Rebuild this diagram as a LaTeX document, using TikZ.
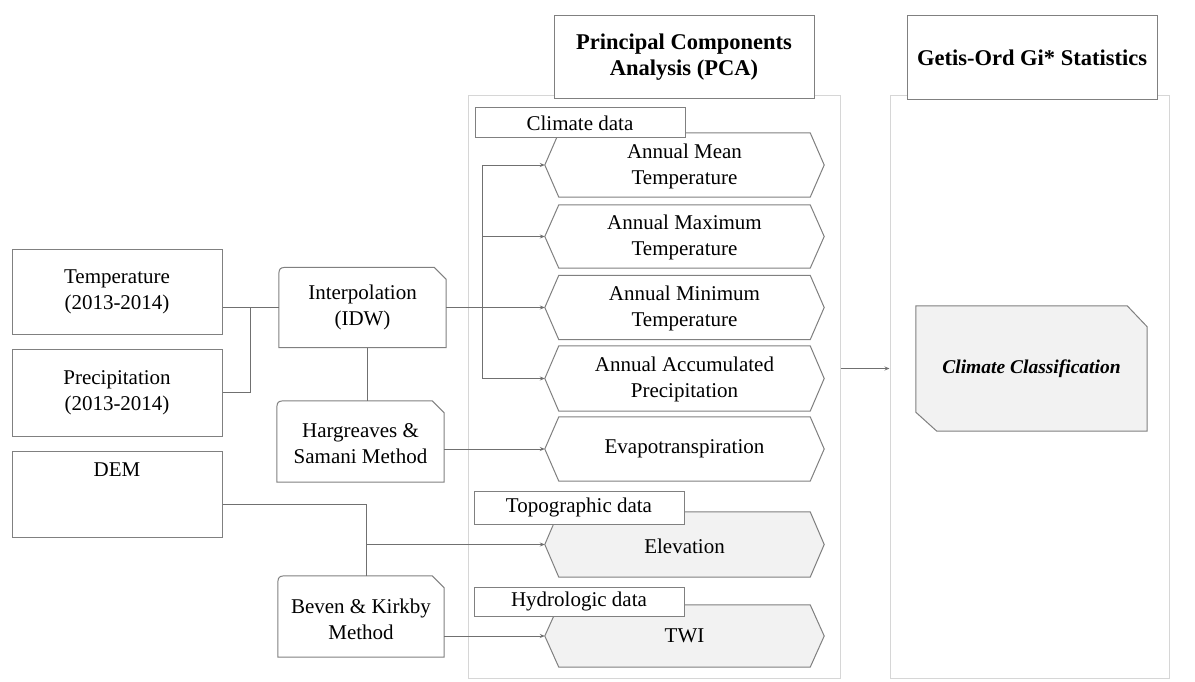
\documentclass[tikz,border=0pt]{standalone}
\usepackage{fontspec}
\setmainfont{Liberation Serif}
\usetikzlibrary{arrows.meta,calc}
\definecolor{boxgray}{HTML}{808080}
\definecolor{linegray}{HTML}{707070}
\definecolor{panelgray}{HTML}{D6D6D6}
\definecolor{fillgray}{HTML}{F2F2F2}
\tikzset{
  txt/.style={font=\fontsize{21}{26}\selectfont, align=center, inner sep=0pt},
  leftbox/.style={txt, draw=boxgray, line width=1pt, fill=white, minimum width=210pt},
  shapenode/.style={txt, minimum width=167pt, minimum height=80pt},
  boxline/.style={draw=boxgray, line width=1pt, fill=white},
  hexnode/.style={txt, minimum width=279pt},
  hexline/.style={draw=boxgray, line width=1pt},
  tagbox/.style={txt, draw=boxgray, line width=1pt, fill=white, minimum width=210pt},
  panel/.style={draw=panelgray, line width=1pt, fill=white},
  titlebox/.style={draw=boxgray, line width=1pt, fill=white, align=center, inner sep=0pt,
    font=\fontsize{22.5}{26}\selectfont\bfseries},
  conn/.style={draw=linegray, line width=0.8pt},
  arr/.style={conn, -{Stealth[length=5pt,width=4pt]}},
}
\begin{document}
\begin{tikzpicture}[x=1pt,y=-1pt]
\useasboundingbox (0,0) rectangle (1195,682);

% panels
\node[panel, minimum width=372pt, minimum height=582pt] (pcap) at (654,387) {};
\node[panel, minimum width=279pt, minimum height=582pt] (getp) at (1029.5,387) {};
\node[titlebox, minimum width=260pt, minimum height=83pt] (pcat) at (684,57.5) {Principal Components\\Analysis (PCA)};
\node[titlebox, minimum width=250pt, minimum height=84pt] (gett) at (1032,58) {Getis-Ord Gi* Statistics};

% left input boxes
\node[leftbox, minimum height=85pt] (temp) at (117,291.5) {Temperature\\(2013-2014)};
\node[leftbox, minimum height=87pt] (prec) at (117,392.5) {Precipitation\\(2013-2014)};
\node[leftbox, minimum height=86pt] (dem) at (117,494) {};
\node[txt] (demtxt) at (117,470) {DEM};

% method boxes (rounded top-left, snipped top-right)
\node[shapenode] (interp) at (362.5,307.5) {};
\node[shapenode, minimum height=81pt] (harg) at (360.5,441.5) {};
\node[shapenode, minimum width=166pt, minimum height=81pt] (beven) at (361,616.5) {};
\foreach \n in {interp,harg,beven}{
  \path[boxline] (\n.south west) -- ([yshift=-12pt]\n.north west)
    .. controls (\n.north west) .. ([xshift=12pt]\n.north west)
    -- ([xshift=-12pt]\n.north east) -- ([yshift=-12pt]\n.north east)
    -- (\n.south east) -- cycle;
}
\node[txt] at (interp) {Interpolation\\(IDW)};
\node[txt] at ([yshift=-2pt]harg.center) {Hargreaves \&\\Samani Method};
\node[txt] at ([yshift=-3pt]beven.center) {Beven \& Kirkby\\Method};

% hexagons
\node[hexnode, minimum height=64pt] (mean) at (684.5,165) {};
\node[hexnode, minimum height=63pt] (max) at (684.5,236.5) {};
\node[hexnode, minimum height=64pt] (min) at (684.5,307.5) {};
\node[hexnode, minimum height=65pt] (acc) at (684.5,378.5) {};
\node[hexnode, minimum height=64pt] (evap) at (684.5,449) {};
\node[hexnode, minimum height=65pt] (elev) at (684.5,544.5) {};
\node[hexnode, minimum height=62pt] (twi) at (684.5,636) {};
\foreach \n/\f in {mean/white,max/white,min/white,acc/white,evap/white,elev/fillgray,twi/fillgray}{
  \path[hexline, fill=\f] (\n.west) -- ([xshift=14pt]\n.north west) -- ([xshift=-14pt]\n.north east)
    -- (\n.east) -- ([xshift=-14pt]\n.south east) -- ([xshift=14pt]\n.south west) -- cycle;
}
\node[txt] at ([yshift=-1pt]mean.center) {Annual Mean\\Temperature};
\node[txt] at ([yshift=-1pt]max.center) {Annual Maximum\\Temperature};
\node[txt] at ([yshift=-1pt]min.center) {Annual Minimum\\Temperature};
\node[txt] at ([yshift=-1pt]acc.center) {Annual Accumulated\\Precipitation};
\node[txt] at (evap) {Evapotranspiration};
\node[txt] at ([yshift=-2pt]elev.center) {Elevation};
\node[txt] at (twi) {TWI};

% category tags
\node[tagbox, minimum height=30pt] (clim) at (580,123) {Climate data};
\node[tagbox, minimum height=33pt] (topo) at (579,507.5) {Topographic data};
\node[tagbox, minimum height=29pt] (hydro) at (579,601.5) {Hydrologic data};

% classification box
\node[txt, minimum width=231pt, minimum height=125pt] (cc) at (1031.5,368.5) {};
\path[boxline, fill=fillgray] (cc.north west) -- ([xshift=-20pt]cc.north east)
  -- ([yshift=-21pt]cc.north east) -- (cc.south east) -- ([xshift=21pt]cc.south west)
  -- ([yshift=19pt]cc.south west) -- cycle;
\node[font=\fontsize{19.5}{24}\selectfont\bfseries\itshape] at (cc) {Climate Classification};

% connectors
\coordinate (j1) at (250,307.5);
\coordinate (bus) at (482,307.5);
\coordinate (dj) at (366,544.5);
\draw[conn] (temp.east |- interp.west) -- (interp.west);
\draw[conn] (prec.east) -| (j1);
\draw[arr] (interp.east) -- (min.west);
\draw[arr] (bus) |- (mean.west);
\draw[arr] (bus) |- (max.west);
\draw[arr] (bus) |- (acc.west);
\draw[conn] (interp.south -| 367,0) -- (harg.north -| 367,0);
\draw[arr] (harg.east |- evap.west) -- (evap.west);
\draw[arr] ([yshift=-10pt]dem.east) -| (dj) -- (elev.west);
\draw[conn] (beven.north -| dj) -- (dj);
\draw[arr] (beven.east |- twi.west) -- (twi.west);
\draw[arr] (pcap.east |- cc.west) -- (getp.west |- cc.west);
\end{tikzpicture}
\end{document}
